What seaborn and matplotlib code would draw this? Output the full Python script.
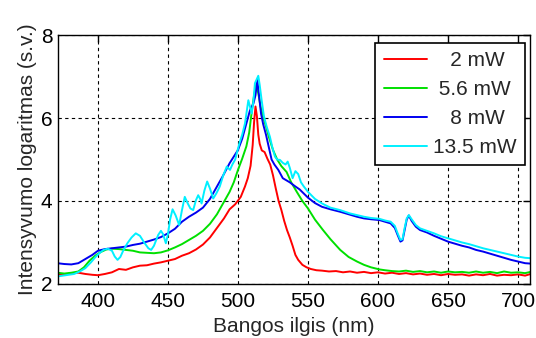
import numpy as np
import pandas as pd
import matplotlib
matplotlib.use("Agg")
import matplotlib.pyplot as plt
import seaborn as sns

# ---------------- data ----------------
labels = ["   2 mW", " 5.6 mW", "   8 mW", "13.5 mW"]
colors = ["#ff0000", "#00e000", "#0000f0", "#00f0ff"]

red_x = [371, 376, 381, 386, 391, 396, 400, 405, 410, 415, 420, 425, 430, 435, 440, 445,
         450, 455, 460, 465, 470, 475, 480, 485, 490, 494, 498, 502, 505, 507, 509, 510.5,
         511.5, 512.5, 513.5, 514.5, 515.5, 517, 519, 521, 523, 525, 527, 529, 531, 533,
         535, 537, 539, 541, 543, 546, 549, 552, 556,
         560, 565, 570, 575, 580, 585, 590, 595, 600, 605, 610, 615, 620, 625, 630, 635,
         640, 645, 650, 655, 660, 665, 670, 675, 680, 685, 690, 695, 700, 705, 709]
red_y = [2.24, 2.22, 2.26, 2.27, 2.24, 2.22, 2.21, 2.24, 2.28, 2.36, 2.34, 2.40, 2.44, 2.45, 2.49, 2.52,
         2.56, 2.60, 2.68, 2.74, 2.83, 2.95, 3.12, 3.35, 3.58, 3.80, 3.92, 4.10, 4.35, 4.55, 4.85, 5.35,
         5.90, 6.28, 6.05, 5.60, 5.38, 5.22, 5.18, 5.02, 4.88, 4.62, 4.30, 4.00, 3.78, 3.52,
         3.30, 3.12, 2.92, 2.70, 2.58, 2.46, 2.40, 2.36, 2.33,
         2.32, 2.30, 2.31, 2.28, 2.30, 2.27, 2.29, 2.26, 2.28, 2.25, 2.27, 2.24, 2.26, 2.23, 2.25, 2.22,
         2.24, 2.21, 2.24, 2.22, 2.23, 2.20, 2.23, 2.21, 2.24, 2.20, 2.22, 2.21, 2.23, 2.20, 2.24]

green_x = [371, 376, 381, 386, 390, 394, 398, 402, 406, 410, 415, 420, 425, 430, 435, 440, 445,
           450, 455, 460, 465, 470, 475, 480, 485, 490, 494, 497, 500, 503, 506, 508, 510,
           511.5, 513, 514.5, 516, 518, 520, 522, 525, 528, 531, 534.7, 538, 542, 546, 550,
           555, 560.7, 566, 573, 579, 585, 590, 595, 601,
           605, 610, 615, 620, 625, 630, 635, 640, 645, 650, 655, 660, 665, 670, 675, 680,
           685, 690, 695, 700, 705, 709]
green_y = [2.27, 2.25, 2.27, 2.30, 2.40, 2.56, 2.68, 2.77, 2.83, 2.85, 2.84, 2.82, 2.80, 2.76, 2.75, 2.74, 2.76,
           2.81, 2.88, 2.96, 3.06, 3.16, 3.28, 3.45, 3.68, 3.98, 4.22, 4.45, 4.75, 5.02, 5.32, 5.65, 6.20,
           6.55, 6.80, 6.60, 6.30, 6.02, 5.80, 5.55, 5.23, 5.00, 4.84, 4.70, 4.45, 4.22, 4.00, 3.82,
           3.55, 3.30, 3.08, 2.82, 2.65, 2.54, 2.46, 2.40, 2.35,
           2.33, 2.31, 2.30, 2.32, 2.29, 2.31, 2.28, 2.30, 2.27, 2.30, 2.28, 2.29, 2.27, 2.30, 2.27, 2.29,
           2.26, 2.30, 2.27, 2.28, 2.26, 2.29]

blue_x = [371, 376, 381, 386, 391, 396, 400, 405, 410, 415, 420, 425, 430, 435, 440, 445,
          450, 455, 460, 465, 470, 475, 480, 485, 489, 494, 500, 503, 506, 508.6, 511, 512.5,
          513.8, 515, 516.5, 518, 520, 522, 524, 526, 528.8, 532, 537, 541, 544, 550, 555,
          560, 566, 573, 580, 585, 590, 595, 601, 605, 609, 612, 614, 616, 617.5, 619, 620.5,
          622, 624, 627, 630, 635, 640, 645, 650, 655, 660, 665, 670, 675, 680, 685, 690,
          695, 700, 705, 709]
blue_y = [2.50, 2.48, 2.47, 2.50, 2.60, 2.70, 2.80, 2.84, 2.86, 2.88, 2.90, 2.94, 2.97, 3.02, 3.07, 3.13,
          3.22, 3.33, 3.50, 3.62, 3.72, 3.84, 4.05, 4.35, 4.59, 4.91, 5.23, 5.50, 5.87, 6.19, 6.35, 6.55,
          6.92, 6.55, 6.10, 5.85, 5.60, 5.30, 5.00, 4.88, 4.75, 4.55, 4.45, 4.35, 4.28, 4.08, 3.95,
          3.86, 3.80, 3.74, 3.67, 3.62, 3.58, 3.56, 3.54, 3.50, 3.46, 3.35, 3.18, 3.02, 3.05, 3.30, 3.55,
          3.65, 3.52, 3.38, 3.30, 3.24, 3.16, 3.09, 3.02, 2.97, 2.92, 2.88, 2.82, 2.78, 2.73, 2.68, 2.63,
          2.58, 2.54, 2.50, 2.49]

cyan_x = [371, 375, 379, 383, 387, 391, 395, 398, 401, 404, 407, 410, 412, 414, 416, 418, 421,
          424, 427, 430, 433, 436, 438, 440, 443, 445, 446.5, 448.5, 450, 451.5, 453.3, 455.5,
          458, 460, 462, 464, 466, 468, 470, 471.6, 473, 474, 476, 478, 480, 482.3, 484.5, 487,
          489.5, 492, 494.3, 496, 498, 501, 503, 505, 507.4, 509.8, 511, 512.1, 514.5, 515.5,
          516.9, 518.5, 520.5, 522.8, 524.5, 526.4, 528, 530, 532, 534, 535.5, 537, 539, 541,
          543, 545, 547, 550, 555, 560, 566, 573, 580, 585, 590, 595, 601, 605, 609, 612, 614,
          616, 617.5, 619, 620.5, 622, 624, 627, 630, 635, 640, 645, 650, 655, 660, 665, 670,
          675, 680, 685, 690, 695, 700, 705, 709]
cyan_y = [2.18, 2.20, 2.22, 2.24, 2.30, 2.38, 2.52, 2.64, 2.74, 2.82, 2.85, 2.80, 2.66, 2.58, 2.65, 2.80, 2.98,
          3.12, 3.22, 3.16, 3.00, 2.86, 2.82, 2.92, 3.18, 3.28, 3.20, 2.98, 3.20, 3.55, 3.80, 3.65,
          3.42, 3.78, 4.10, 3.95, 3.82, 3.78, 4.02, 4.14, 4.05, 3.94, 4.25, 4.47, 4.30, 4.06, 4.18, 4.35,
          4.62, 4.83, 4.75, 4.88, 5.00, 5.39, 5.60, 5.87, 6.43, 6.11, 6.40, 6.84, 7.02, 6.80,
          6.43, 6.05, 5.79, 5.55, 5.30, 5.07, 5.00, 4.99, 4.92, 4.88, 4.95, 4.80, 4.55, 4.72,
          4.65, 4.45, 4.35, 4.22, 4.05, 3.94, 3.84, 3.78, 3.70, 3.66, 3.62, 3.59, 3.57, 3.53, 3.50, 3.40, 3.22,
          3.06, 3.08, 3.35, 3.58, 3.66, 3.56, 3.42, 3.34, 3.28, 3.22, 3.15, 3.10, 3.05, 3.00, 2.96, 2.91,
          2.86, 2.82, 2.78, 2.74, 2.70, 2.66, 2.63, 2.62]

x_ticks = [400, 450, 500, 550, 600, 650, 700]
y_ticks = [2, 4, 6, 8]
x_label = "Bangos ilgis (nm)"
y_label = "Intensyvumo logaritmas (s.v.)"

# ---------------- build long table ----------------
frames = []
for lab, xs, ys in zip(labels, [red_x, green_x, blue_x, cyan_x], [red_y, green_y, blue_y, cyan_y]):
    frames.append(pd.DataFrame({"wl": xs, "val": ys, "series": lab}))
df = pd.concat(frames, ignore_index=True)

# ---------------- plot ----------------
sns.set_style("white")
plt.rcParams["font.family"] = ["Liberation Sans", "DejaVu Sans"]
FS = 15

fig = plt.figure(figsize=(5.36, 3.38), dpi=100)
ax = fig.add_axes([0.108, 0.160, 0.881, 0.736])

sns.lineplot(data=df, x="wl", y="val", hue="series", hue_order=labels,
             palette=dict(zip(labels, colors)), estimator=None, sort=True,
             linewidth=1.4, ax=ax)

ax.set_xlim(371.4, 708.6)
ax.set_ylim(2, 8)
ax.set_xticks(x_ticks)
ax.set_yticks(y_ticks)
ax.grid(True, color="black", linestyle=(0, (3, 3)), linewidth=0.8)
ax.set_axisbelow(True)
ax.tick_params(direction="in", length=5, width=1, top=True, right=True,
               labelsize=FS, colors="black")
ax.tick_params(axis="x", pad=6)
ax.tick_params(axis="y", pad=4)
for s in ax.spines.values():
    s.set_color("black")
    s.set_linewidth(1.0)
    s.set_visible(True)

ax.set_xlabel(x_label, fontsize=FS, labelpad=4)
ax.set_ylabel(y_label, fontsize=FS, labelpad=3)

handles, labs = ax.get_legend_handles_labels()
leg = ax.legend(handles, labs, loc="upper right", bbox_to_anchor=(0.989, 0.968),
                borderaxespad=0, fontsize=FS, frameon=True, fancybox=False,
                framealpha=1, edgecolor="black", handlelength=2.07, handletextpad=0.3,
                labelspacing=0.47, borderpad=0.4)
leg.get_frame().set_linewidth(1.2)
for h in leg.get_lines():
    h.set_linewidth(1.4)

fig.savefig("out.png", dpi=100)
